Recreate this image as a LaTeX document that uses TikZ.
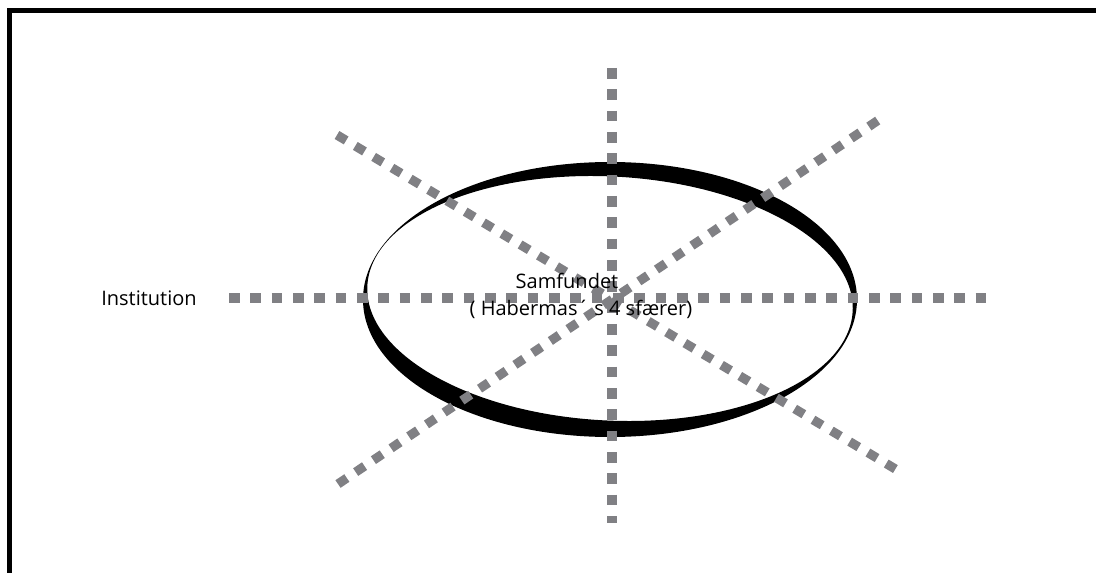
\documentclass[tikz,border=0pt]{standalone}
\usepackage{fontspec}
\setsansfont{Open Sans}
\usetikzlibrary{positioning}
\definecolor{ink}{HTML}{000000}
\definecolor{spoke}{HTML}{808084}
\tikzset{
  font=\sffamily,
  %
  frame/.style={draw=ink, line width=3.75pt},
  ring/.style={fill=ink, even odd rule},
  ray/.style={draw=spoke, line width=6.9pt, dash pattern=on 8pt off 8pt},
  %
  lbl/.style={text=ink, font=\sffamily\fontsize{15}{19.5}\selectfont,
              inner sep=0pt},
}
\begin{document}
\begin{tikzpicture}[x=0.75pt, y=0.75pt]

  \clip (0,0) rectangle (1096,572);
  \draw[frame] (9.5,-40) rectangle (1140,561.5);

  % the ring, thick where the two ellipses drift apart
  \path[ring] (610,272.5) ellipse [x radius=247, y radius=137.5]
              (610,273.5) ellipse [x radius=243, y radius=122, rotate=-3];

  \coordinate (w)  at (229,274);
  \coordinate (e)  at (990,274);
  \coordinate (n)  at (612,504);
  \coordinate (s)  at (612,49);
  \coordinate (nw) at (337,437);
  \coordinate (se) at (897,102);
  \coordinate (sw) at (338,88);
  \coordinate (ne) at (880,453);

  \foreach \a/\b in {w/e, n/s, nw/se, sw/ne} {
    \draw[ray] (\a) -- (\b);
  }

  \node[lbl, anchor=base] (samf) at (567,283) {Samfundet};
  \node[lbl, anchor=base] (spheres) at (581,257) {( Habermas´ s 4 sfærer)};
  \node[lbl] (inst) at (149,274) {Institution};

\end{tikzpicture}
\end{document}
